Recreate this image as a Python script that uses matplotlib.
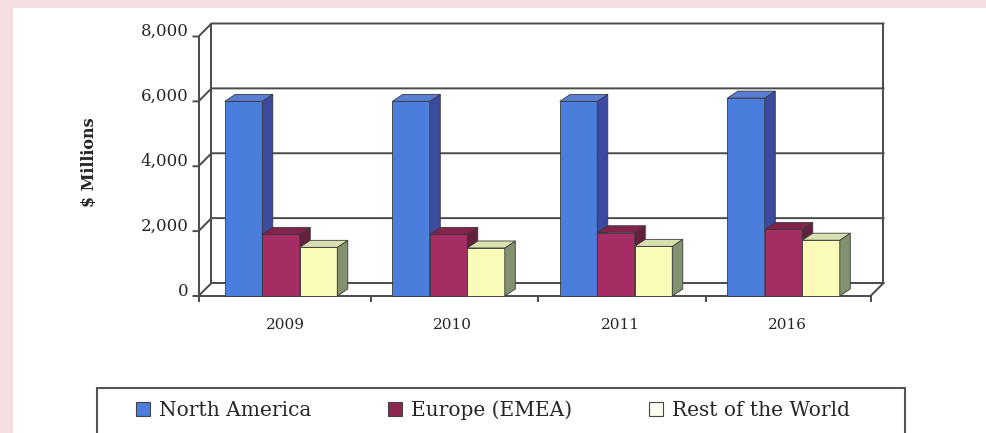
import numpy as np
import matplotlib
matplotlib.use("Agg")
import matplotlib.pyplot as plt
from matplotlib.patches import Polygon, Rectangle

# data ($ millions)
years = ["2009", "2010", "2011", "2016"]
series = ["North America", "Europe (EMEA)", "Rest of the World"]
north_america = [5800, 5800, 5800, 5900]
europe = [1700, 1700, 1750, 1850]
rest_world = [1300, 1280, 1330, 1520]
y_ticks = [0, 2000, 4000, 6000, 8000]

# face colours: front, side, top
front_cols = ["#4b7ddc", "#a52d64", "#fafab9"]
side_cols = ["#3c4ba0", "#64203c", "#82916e"]
top_cols = ["#5a7ed2", "#82234b", "#d7e1af"]
legend_cols = ["#4b7ddc", "#8c2850", "#fbfbee"]

plt.rcParams['font.family'] = ['DejaVu Serif']
txt = "#262626"
line = "#4a4a4a"

W, H = 986, 433
fig = plt.figure(figsize=(W / 100, H / 100), dpi=100, facecolor="#f5dfe1")
# scanned page: white sheet with pink margin at left/top
fig.patches.append(Rectangle((13 / W, 0), 1, 1 - 8 / H, transform=fig.transFigure,
                             facecolor="white", edgecolor="none", zorder=-5))

# axes covers the middle plane of the 3d box
ax = fig.add_axes([205 / W, 1 - 289.5 / H, 672 / W, 259.5 / H])
ax.set_facecolor("none")
ax.set_zorder(2)
xl, xr = -0.454, 3.558
ax.set_xlim(xl, xr)
ax.set_ylim(0, 8000)
ax.axis("off")

def px_x(p):
    return p / 167.5

def px_y(p):
    return p * 8000 / 259.5

fx, fy = -px_x(6.5), -px_y(6.5)   # front plane
bx, by = px_x(6.5), px_y(6.5)     # back wall

kw = dict(color=line, lw=1.4, clip_on=False, zorder=1)
# gridlines: tick stub, side wall diagonal, back wall line
for t in y_ticks:
    ax.plot([xl + fx - px_x(5), xl + fx, xl + bx, xr + bx],
            [t + fy, t + fy, t + by, t + by], **kw)
    ax.text(xl + fx - px_x(10), t + fy + px_y(5), f"{t:,}", ha="right", va="center",
            fontsize=12, color=txt)
# walls and floor
ax.plot([xl + bx, xl + bx], [by, 8000 + by], **kw)
ax.plot([xr + bx, xr + bx], [by, 8000 + by], **kw)
ax.plot([xl + fx, xl + fx], [fy, 8000 + fy], **kw)
ax.plot([xl + fx, xr + fx, xr + bx], [fy, fy, by], **kw)
for xt in [xl + fx, 0.5 + px_x(6), 1.5 + px_x(6), 2.5 + px_x(6), xr + fx]:
    ax.plot([xt, xt], [fy, fy - px_y(5)], **kw)

# 3d bars
w = px_x(37.5)
ddx, ddy = px_x(10.5), px_y(7)
values = [north_america, europe, rest_world]
for i in range(len(years)):
    for k, vals in enumerate(values):
        x0 = i - 1.5 * w + k * w
        v = vals[i]
        ax.bar(x0, v - fy, bottom=fy, width=w, align="edge", color=front_cols[k],
               edgecolor="#3a3a3a", linewidth=0.6, clip_on=False, zorder=3)
        side = [(x0 + w, fy), (x0 + w, v), (x0 + w + ddx, v + ddy), (x0 + w + ddx, fy + ddy)]
        top = [(x0, v), (x0 + w, v), (x0 + w + ddx, v + ddy), (x0 + ddx, v + ddy)]
        ax.add_patch(Polygon(side, closed=True, facecolor=side_cols[k], edgecolor="#3a3a3a",
                             linewidth=0.6, clip_on=False, zorder=3))
        ax.add_patch(Polygon(top, closed=True, facecolor=top_cols[k], edgecolor="#3a3a3a",
                             linewidth=0.6, clip_on=False, zorder=3))
    ax.text(i + px_x(4), fy - px_y(29), years[i], ha="center", va="center",
            fontsize=11, color=txt)

fig.text(90 / W, 1 - 162 / H, "$ Millions", rotation=90, ha="center", va="center",
         fontsize=11.5, fontweight="bold", color=txt)

# legend box (runs off the bottom of the page)
fig.patches.append(Rectangle((97 / W, -0.05), 808 / W, 0.05 + (433 - 388) / H,
                             transform=fig.transFigure, fill=False, edgecolor="#555555",
                             linewidth=1.5, zorder=2))
handles = [Rectangle((0, 0), 1, 1, facecolor=c, edgecolor="#444444", linewidth=0.8)
           for c in legend_cols]
fig.legend(handles, series, loc="center left", bbox_to_anchor=(118 / W, 1 - 410 / H),
           ncol=3, frameon=False, fontsize=14.5, handlelength=0.7, handleheight=0.7,
           handletextpad=0.45, columnspacing=3.8, labelcolor=txt)

fig.savefig("out.png", dpi=100, facecolor=fig.get_facecolor())
